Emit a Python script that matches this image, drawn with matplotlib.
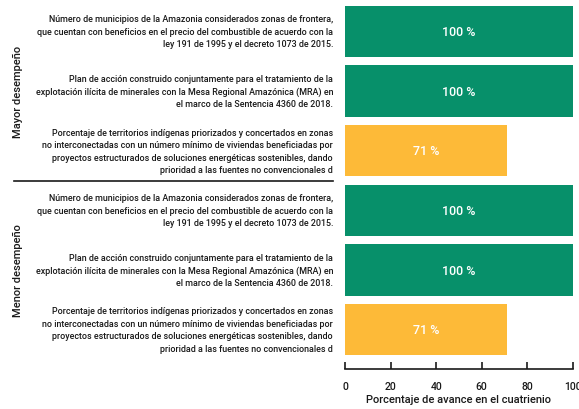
import matplotlib
matplotlib.use("Agg")
import matplotlib.pyplot as plt

plt.rcParams["font.family"] = ["Roboto", "DejaVu Sans"]

label_a = ("Número de municipios de la Amazonia considerados zonas de frontera,\n"
           "que cuentan con beneficios en el precio del combustible de acuerdo con la\n"
           "ley 191 de 1995 y el decreto 1073 de 2015.")
label_b = ("Plan de acción construido conjuntamente para el tratamiento de la\n"
           "explotación ilícita de minerales con la Mesa Regional Amazónica (MRA) en\n"
           "el marco de la Sentencia 4360 de 2018.")
label_c = ("Porcentaje de territorios indígenas priorizados y concertados en zonas\n"
           "no interconectadas con un número mínimo de viviendas beneficiadas por\n"
           "proyectos estructurados de soluciones energéticas sostenibles, dando\n"
           "prioridad a las fuentes no convencionales d")

labels = [label_a, label_b, label_c, label_a, label_b, label_c]
values = [100, 100, 71, 100, 100, 71]
groups = ["Mayor desempeño", "Menor desempeño"]
ticks = [0, 20, 40, 60, 80, 100]

green = "#07906A"
yellow = "#FDBA38"
colors = [green if v == 100 else yellow for v in values]

fig = plt.figure(figsize=(5.79, 4.10), dpi=100)
ax = fig.add_axes([345.3 / 579, 1 - 370 / 410, 227.4 / 579, 370 / 410])

pos = list(range(len(values)))
ax.barh(pos, values, height=0.86, color=colors)
ax.set_xlim(0, 100)
ax.set_ylim(5.66, -0.545)

for p, v in zip(pos, values):
    ax.text(v / 2, p, f"{v} %", color="white", ha="center", va="center",
            fontsize=9, fontweight="medium")

ytr = ax.get_yaxis_transform()
for p, lab in zip(pos, labels):
    ax.text(-0.054, p, lab, transform=ytr, ha="right", va="center",
            fontsize=6.4, fontweight="medium", linespacing=1.5, color="#1a1a1a")

# group separator
ax.plot([(14 - 345.3) / 227.4, (333 - 345.3) / 227.4], [2.5, 2.5],
        transform=ytr, color="#1a1a1a", lw=1.2, clip_on=False)

for gy, g in zip([1, 4], groups):
    ax.text((18 - 345.3) / 227.4, gy, g, transform=ytr, rotation=90,
            ha="center", va="center", fontsize=8, fontweight="medium",
            color="#1a1a1a")

for s in ["top", "right", "left"]:
    ax.spines[s].set_visible(False)
ax.spines["bottom"].set_color("#1a1a1a")
ax.spines["bottom"].set_linewidth(1.2)
ax.set_yticks([])
ax.set_xticks(ticks)
ax.tick_params(axis="x", direction="in", length=5, width=1.2, labelsize=7.5,
               pad=9, colors="#1a1a1a")
for t in ax.get_xticklabels():
    t.set_fontweight("medium")
ax.set_xlabel("Porcentaje de avance en el cuatrienio", fontsize=8,
              fontweight="medium", labelpad=2, color="#1a1a1a")

fig.savefig("out.png", dpi=100)
